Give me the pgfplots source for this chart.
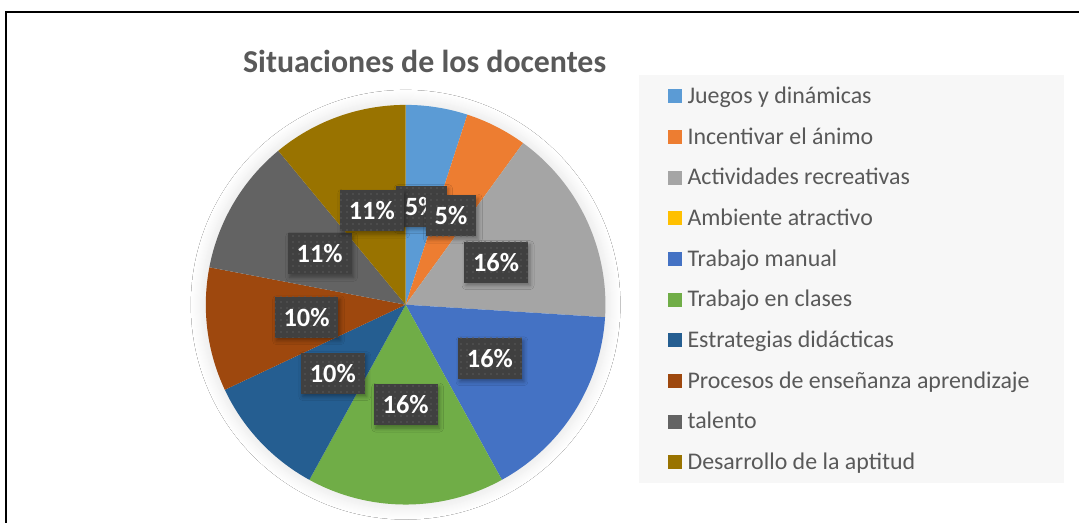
\documentclass[border=0pt]{standalone}
\usepackage{fontspec}
\setmainfont{Carlito}
\usepackage{pgfplots}
\usepackage{pgfplotstable}
\pgfplotsset{compat=1.18}
\usetikzlibrary{patterns.meta,shadows.blur}

\definecolor{c1}{HTML}{5B9BD5}
\definecolor{c2}{HTML}{ED7D31}
\definecolor{c3}{HTML}{A5A5A5}
\definecolor{c4}{HTML}{FFC000}
\definecolor{c5}{HTML}{4472C4}
\definecolor{c6}{HTML}{70AD47}
\definecolor{c7}{HTML}{255E91}
\definecolor{c8}{HTML}{9E480E}
\definecolor{c9}{HTML}{636363}
\definecolor{c10}{HTML}{997300}
\definecolor{txt}{HTML}{595959}
\definecolor{lblbg}{HTML}{404040}
\definecolor{lbldot}{HTML}{5A5A5A}
\definecolor{legbg}{HTML}{F7F7F7}

% percentages, clockwise from 12 o'clock
\pgfplotstableread[col sep=comma]{
name,value,col
Juegos y dinámicas,5,c1
Incentivar el ánimo,5,c2
Actividades recreativas,16,c3
Ambiente atractivo,0,c4
Trabajo manual,16,c5
Trabajo en clases,16,c6
Estrategias didácticas,10,c7
Procesos de enseñanza aprendizaje,10,c8
talento,11,c9
Desarrollo de la aptitud,11,c10
}\piedata

\tikzset{
  lbl/.style={fill=lblbg, text=white, font=\fontsize{26.5}{30}\selectfont\bfseries,
    inner xsep=9bp, inner ysep=0bp, minimum height=41bp,
    blur shadow={shadow xshift=2bp, shadow yshift=-3bp, shadow opacity=35, shadow blur radius=4bp},
    postaction={pattern={Dots[distance=6bp, radius=0.9bp]}, pattern color=lbldot}},
}

\begin{document}
\begin{tikzpicture}
\begin{axis}[x=1bp, y=1bp, xmin=0, xmax=1080, ymin=0, ymax=523,
  y dir=reverse, hide axis, clip=false]
\pgfplotsextra{%
  \fill[white] (axis cs:0,0) rectangle (axis cs:1080,523);
  \draw[line width=2bp, black] (axis cs:6,523) -- (axis cs:6,12) -- (axis cs:1080,12);
  % title
  \node[anchor=base, text=txt, inner sep=0, font=\fontsize{32}{36}\selectfont\bfseries]
    at (axis cs:425,73) {Situaciones de los docentes};
  % legend background
  \fill[legbg] (axis cs:640,75) rectangle (axis cs:1065,483);
  % soft shadow under the pie
  \fill[white, blur shadow={shadow xshift=0bp, shadow yshift=0bp, shadow opacity=14,
      shadow blur radius=16bp, shadow blur steps=16}]
    (axis cs:406,305) circle[radius=199bp];
  \pgfplotstablegetrowsof{\piedata}%
  \pgfmathtruncatemacro\lastrow{\pgfplotsretval-1}%
  % slices
  \gdef\cum{0}%
  \foreach \i in {0,...,\lastrow}{%
    \pgfplotstablegetelem{\i}{value}\of\piedata \let\sval\pgfplotsretval
    \pgfplotstablegetelem{\i}{col}\of\piedata \let\scol\pgfplotsretval
    \pgfmathsetmacro\aa{90-3.6*\cum}%
    \pgfmathsetmacro\bb{90-3.6*(\cum+\sval)}%
    \ifdim\sval pt>0pt
      \fill[\scol] (axis cs:406,305) -- ++(\aa:200bp)
        arc[start angle=\aa, end angle=\bb, radius=200bp] -- cycle;
    \fi
    \pgfmathsetmacro\cumn{\cum+\sval}\xdef\cum{\cumn}%
  }
  % data labels
  \gdef\cum{0}%
  \foreach \i in {0,...,\lastrow}{%
    \pgfplotstablegetelem{\i}{value}\of\piedata \let\sval\pgfplotsretval
    \pgfmathsetmacro\mm{90-3.6*(\cum+\sval/2)}%
    \ifdim\sval pt>0pt
      \path (axis cs:406,305) ++(\mm:100bp) node[lbl] {\sval\%};
    \fi
    \pgfmathsetmacro\cumn{\cum+\sval}\xdef\cum{\cumn}%
  }
  % legend entries
  \foreach \i in {0,...,\lastrow}{%
    \pgfplotstablegetelem{\i}{name}\of\piedata \let\sname\pgfplotsretval
    \pgfplotstablegetelem{\i}{col}\of\piedata \let\scol\pgfplotsretval
    \pgfmathsetmacro\by{103.5+40.7*\i}%
    \fill[\scol] (axis cs:669,\by) rectangle (axis cs:683,{\by-14});
    \node[anchor=base west, inner sep=0, text=txt, font=\fontsize{24}{28}\selectfont]
      at (axis cs:688,\by) {\sname};
  }
}
\end{axis}
\end{tikzpicture}
\end{document}
